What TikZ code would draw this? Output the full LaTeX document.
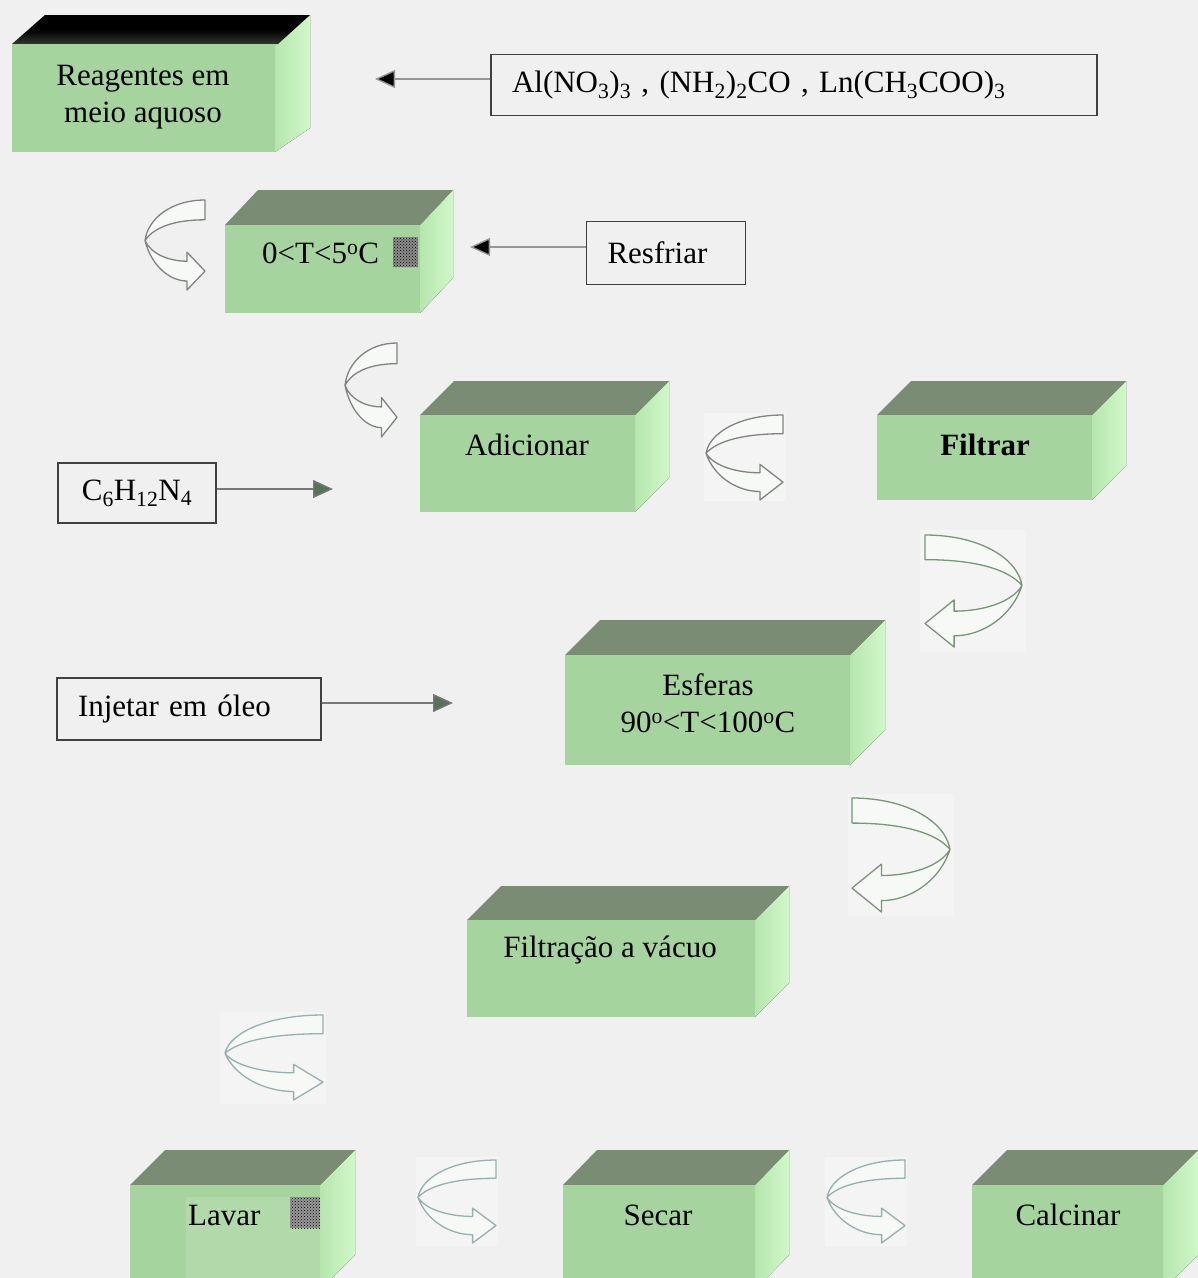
\documentclass[tikz,border=0pt]{standalone}
\usepackage{fontspec}
\setmainfont{Liberation Serif}
\usetikzlibrary{arrows.meta,patterns}
\definecolor{bgc}{RGB}{240,240,240}
\definecolor{frontc}{RGB}{166,212,158}
\definecolor{topc}{RGB}{122,140,116}
\definecolor{sidea}{RGB}{182,230,174}
\definecolor{sideb}{RGB}{208,248,200}
\definecolor{ufill}{RGB}{246,249,246}
\definecolor{ugray}{RGB}{130,130,130}
\definecolor{ugreen}{RGB}{120,150,120}
\definecolor{uteal}{RGB}{150,175,175}
\definecolor{linec}{RGB}{150,150,150}
\definecolor{headg}{RGB}{85,115,85}
\newcommand\mycuboid[6]{%
  \fill[left color=sidea,right color=sideb] (#3,#2) -- (#3+#5,#2-#6) -- (#3+#5,#4-#6) -- (#3,#4) -- cycle;
  \fill[topc] (#1,#2) -- (#1+#5,#2-#6) -- (#3+#5,#2-#6) -- (#3,#2) -- cycle;
  \fill[frontc] (#1,#2) rectangle (#3,#4);
}
\tikzset{
  lbl/.style={font=\fontsize{31}{37}\selectfont, inner sep=0pt, align=center},
  tbox/.style={draw=black!75, line width=1.3pt, fill=bgc, font=\fontsize{31}{37}\selectfont, minimum height=61pt},
  blackhead/.style={draw=linec, line width=1.4pt, -{Triangle[length=20pt,width=18pt,fill=black]}},
  greenhead/.style={draw=linec!80!black, line width=1.4pt, -{Triangle[length=20pt,width=18pt,fill=headg]}},
  uturnbg/.style={fill=white, opacity=0.3},
  uturn/.pic={\draw[line width=1.3pt, fill=ufill, line join=round]
    (1,0.22) -- (1,0) .. controls (0.45,0) and (0.05,0.2) .. (0,0.45)
    .. controls (0.1,0.72) and (0.4,0.9) .. (0.7,0.9) -- (0.7,1) -- (1,0.79) -- (0.7,0.58) -- (0.7,0.68)
    .. controls (0.4,0.68) and (0.1,0.6) .. (0,0.45)
    .. controls (0.15,0.3) and (0.5,0.22) .. (1,0.22) -- cycle;}
}
\begin{document}
\begin{tikzpicture}[x=1pt,y=-1pt]
\useasboundingbox (0,0) rectangle (1198,1278);
\clip (0,0) rectangle (1198,1278);
\fill[bgc] (0,0) rectangle (1198,1278);

% ---------- box 1 : Reagentes ----------
\fill[left color=sidea,right color=sideb] (275,44) -- (310,15) -- (310,128) -- (275,152) -- cycle;
\shade[top color=black, bottom color=black!60!topc, middle color=black] (12,44) -- (45,15) -- (310,15) -- (278,44) -- cycle;
\fill[frontc] (12,44) rectangle (275,152);
\node[lbl] (reag) at (143,97) {Reagentes em\\meio aquoso};

% ---------- box 2 : 0<T<5 ----------
\mycuboid{225}{225}{420}{313}{33}{35}
\node[lbl, anchor=west] (frio) at (262,253) {0<T<5\textsuperscript{o}C};
\fill[black!45] (393,237) rectangle (418,267);
\fill[pattern=crosshatch dots, pattern color=black] (393,237) rectangle (418,267);

% ---------- box 3 : Adicionar ----------
\mycuboid{420}{415}{635}{512}{34}{34}
\node[lbl] (adic) at (527,445) {Adicionar};

% ---------- box 4 : Filtrar ----------
\mycuboid{877}{415}{1092}{500}{34}{34}
\node[lbl, font=\bfseries\fontsize{31}{37}\selectfont] (filt) at (985,445) {Filtrar};

% ---------- box 5 : Esferas ----------
\mycuboid{565}{655}{850}{765}{35}{35}
\node[lbl] (esf) at (708,703) {Esferas\\90\textsuperscript{o}<T<100\textsuperscript{o}C};

% ---------- box 6 : Filtracao a vacuo ----------
\mycuboid{467}{920}{755}{1017}{34}{34}
\node[lbl] (fvac) at (610,950) {Filtração a vácuo};

% ---------- box 7 : Lavar ----------
\mycuboid{130}{1185}{320}{1290}{35}{35}
\fill[frontc!75!white, opacity=0.5] (186,1197) rectangle (320,1290);
\node[lbl, anchor=west] (lavar) at (188,1215) {Lavar};
\fill[black!40] (290,1197) rectangle (320,1228);
\fill[pattern=crosshatch dots, pattern color=black] (290,1197) rectangle (320,1228);

% ---------- box 8 : Secar ----------
\mycuboid{563}{1185}{755}{1290}{34}{35}
\node[lbl] (secar) at (658,1215) {Secar};

% ---------- box 9 : Calcinar ----------
\mycuboid{972}{1185}{1163}{1290}{35}{35}
\node[lbl] (calc) at (1068,1215) {Calcinar};

% ---------- text boxes ----------
\node[tbox, text width=564pt, align=left, inner xsep=21pt] (reag-in) at (794,85)
  {Al(NO\textsubscript{3})\textsubscript{3} , (NH\textsubscript{2})\textsubscript{2}CO , Ln(CH\textsubscript{3}COO)\textsubscript{3}};
\node[tbox, text width=117pt, align=left, inner xsep=21pt, minimum height=63pt] (resf) at (666,253) {Resfriar};
\node[tbox, minimum width=158pt, minimum height=60pt] (hmta) at (137,493) {C\textsubscript{6}H\textsubscript{12}N\textsubscript{4}};
\node[tbox, text width=222pt, align=left, inner xsep=21pt, minimum height=62pt] (oleo) at (189,709) {Injetar em óleo};

% ---------- straight arrows ----------
\coordinate (e1) at (375,79);
\coordinate (e2) at (470,247);
\coordinate (e3) at (333,489);
\coordinate (e4) at (453,703);
\draw[blackhead] (reag-in.west |- e1) -- (e1);
\draw[blackhead] (resf.west |- e2) -- (e2);
\draw[greenhead] (hmta.east |- e3) -- (e3);
\draw[greenhead] (oleo.east |- e4) -- (e4);

% ---------- curved arrows ----------
\fill[uturnbg] (704,413) rectangle (786,501);
\fill[uturnbg] (920,530) rectangle (1026,652);
\fill[uturnbg] (848,794) rectangle (954,916);
\fill[uturnbg] (220,1012) rectangle (326,1104);
\fill[uturnbg] (416,1157) rectangle (498,1246);
\fill[uturnbg] (825,1157) rectangle (907,1246);
\pic[color=ugray,  xscale=60, yscale=90]  at (145,200)  {uturn};
\pic[color=ugray,  xscale=52, yscale=94]  at (345,343)  {uturn};
\pic[color=ugray,  xscale=77, yscale=85]  at (706,415)  {uturn};
\pic[color=ugreen, xscale=-97, yscale=112] at (1022,535) {uturn};
\pic[color=ugreen, xscale=-98, yscale=114] at (950,798)  {uturn};
\pic[color=uteal,  xscale=98, yscale=85]  at (225,1015) {uturn};
\pic[color=uteal,  xscale=78, yscale=83]  at (418,1160) {uturn};
\pic[color=uteal,  xscale=78, yscale=83]  at (827,1160) {uturn};
\end{tikzpicture}
\end{document}
